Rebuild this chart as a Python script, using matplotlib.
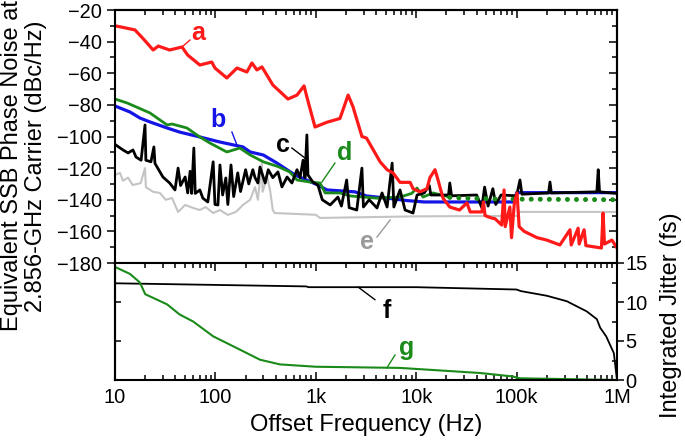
import numpy as np
import matplotlib.pyplot as plt
from matplotlib.ticker import FixedLocator, NullFormatter, MultipleLocator, LogLocator

plt.rcParams['font.family'] = ['Liberation Sans', 'DejaVu Sans']

# --- phase noise curves (offset frequency in Hz, dBc/Hz) ---
a_x = [10, 12, 15.8, 19, 24, 27, 35, 46.5, 53, 70, 92, 99, 130, 164, 206, 231, 259, 291, 373,
       528, 650, 764, 815, 982, 1290, 1740, 2100, 2350, 2880, 3200, 4370, 5130, 5870, 6900,
       8700, 9300, 10900, 12800, 13700, 15400, 16500, 18500, 21600, 27000, 32000, 34500,
       45000, 46800, 48500, 56000, 61000, 71000, 75000, 77000, 85700, 89000, 95000, 101000,
       106000, 119000, 160000, 200000, 270000, 340000, 350000, 410000, 420000, 470000,
       490000, 700000, 727000, 750000, 890000, 1000000]
a_y = [-30, -31, -32.6, -38, -45.3, -42.8, -45.3, -43.4, -48.5, -54.8, -52.9, -56.7, -63,
       -56.7, -59.2, -53.5, -57.9, -56, -67.4, -76.3, -73.8, -68, -75, -94, -91, -88.6,
       -73.8, -81.3, -100, -101, -116, -121, -123, -129, -129, -133, -135, -133, -126, -121,
       -127.5, -139, -144.6, -146.5, -142, -147.7, -147.7, -141.4, -150, -151.5, -152, -156,
       -133.8, -157, -144.6, -164, -142, -135.7, -157, -160, -164, -165.5, -168.6, -159,
       -168.6, -158, -168, -159, -169, -170.5, -148.4, -168, -165.5, -170.5]

b_x = [10, 14.1, 17.7, 22.3, 33, 44, 70, 111, 188, 222, 300, 410, 620, 1050, 1290, 2450, 3200,
       5130, 8000, 12000, 95000, 100000, 1000000]
b_y = [-80.7, -84.5, -88.3, -90.8, -94.6, -97.2, -100.3, -103.5, -106.6, -109.8, -111.7,
       -116.8, -124.3, -130.7, -133.8, -135, -137.6, -139, -140.5, -141.4, -141.4, -135.5,
       -135.5]

c_x = [10, 12, 13.5, 15.1, 16.2, 18.2, 19.9, 20.3, 22.8, 24.4, 25, 30, 35, 39.6, 42.5, 45,
       50, 53, 56, 58, 61, 63, 70, 75, 84, 95, 99, 106, 111, 118, 127, 133, 143, 152, 167,
       178, 200, 215, 236, 248, 265, 278, 313, 336, 373, 420, 460, 518, 578, 650, 697, 747,
       780, 815, 835, 935, 1050, 1160, 1390, 1660, 1800, 2030, 2150, 2560, 2880, 2980, 3400,
       4070, 4570, 5130, 5760, 5990, 6900, 7750, 9300, 10200, 12000, 13500, 14000, 21000,
       21600, 22500, 40000, 45000, 48000, 52000, 58000, 62000, 70000, 100000, 108000,
       113000, 208000, 215000, 222000, 630000, 650000, 670000, 1000000]
c_y = [-105, -108.5, -110.4, -108.5, -113, -115, -92.7, -115, -116, -106.6, -117, -125.6,
       -129.4, -133.8, -120, -131, -125.6, -135.7, -122, -136, -107.3, -136, -133.8, -139,
       -141.4, -116, -143, -143.3, -118, -137, -126.2, -143, -118, -138, -123, -134.8, -121,
       -130, -121, -126, -129.4, -119.3, -129.4, -121, -126, -122.4, -131.9, -125.6, -129.4,
       -121, -126, -115, -126, -99, -124.3, -128.8, -130.7, -140, -143.3, -138.3, -144,
       -127.5, -145, -146.5, -120, -144.6, -140, -145.2, -135.7, -144.6, -116.8, -144.6,
       -133.8, -146.5, -148.4, -137, -135.7, -131, -137, -137, -129.4, -137.5, -137, -145,
       -132, -144, -133, -143, -137, -137.5, -127.5, -136.5, -135.7, -128.8, -135.7, -135,
       -121, -135, -136]

d_x = [10, 13.2, 22.3, 33, 37, 52, 70, 88, 130, 175, 222, 300, 420, 550, 650, 875, 1100,
       1240, 1740, 2200, 4070, 6900, 9000, 10200, 11700, 14700, 21600]
d_y = [-76.3, -78.8, -85.1, -92.7, -92.1, -94.6, -100.3, -104.1, -109.8, -107.3, -111.7, -116,
       -119, -122.4, -127.5, -128.8, -129.4, -135.7, -135.7, -137.6, -139, -138.3, -136,
       -132.6, -138.3, -135.7, -138.3]
d_dot_x = [21600, 30000, 60000, 1000000]
d_dot_y = [-138.5, -139, -139.5, -140]

e_x = [10, 11.2, 12, 13.5, 15, 18, 19.9, 20.3, 24, 28, 32, 37, 42.5, 50, 60, 70, 80, 95, 111,
       133, 160, 188, 222, 248, 265, 290, 295, 328, 350, 373, 390, 1000, 1100, 10000, 105000,
       106000, 1000000]
e_y = [-124.3, -123, -128, -126, -130.7, -129.5, -120, -132, -135, -135.7, -140, -138.9,
       -147.7, -143.3, -145.2, -146.5, -144.6, -148.4, -146.5, -149.6, -147.7, -143.3, -140,
       -132, -140, -116.8, -135, -125.6, -133.8, -146.5, -148.4, -149.5, -151.5, -150.5,
       -150.2, -147.7, -147.7]

# --- integrated jitter (fs) ---
f_x = [10, 800, 850, 10000, 100000, 110000, 200000, 316000, 499000, 630000, 680000, 780000,
       930000, 1000000]
f_y = [12.4, 12.0, 11.9, 11.9, 11.6, 11.4, 10.8, 10.1, 8.8, 7.8, 6.7, 5.6, 3.45, 0]

g_x = [10, 14.1, 17.7, 20, 33, 44, 60, 95, 175, 278, 440, 1000, 6900, 43000, 92000, 101000,
       108000, 1000000]
g_y = [14.5, 13.6, 12.5, 11.0, 9.7, 8.4, 7.5, 5.6, 3.9, 2.6, 2.0, 1.7, 1.55, 0.9, 0.45, 0.3,
       0.22, 0.0]

xticks = [10, 100, 1e3, 1e4, 1e5, 1e6]
xticklabels = ['10', '100', '1k', '10k', '100k', '1M']

for xs, ys in [(a_x, a_y), (b_x, b_y), (c_x, c_y), (d_x, d_y), (e_x, e_y), (f_x, f_y), (g_x, g_y)]:
    assert len(xs) == len(ys), (len(xs), len(ys))

red, blue, green, gray = '#ff1a1a', '#1414e6', '#1a8a1a', '#c4c4c4'

fig = plt.figure(figsize=(6.85, 4.46), dpi=100)
ax = fig.add_axes([115 / 685, 1 - 263 / 446, 502 / 685, 253 / 446])
ax2 = fig.add_axes([115 / 685, 1 - 380 / 446, 502 / 685, 117 / 446])

ax.plot(e_x, e_y, color=gray, lw=1.5)
ax.plot(b_x, b_y, color=blue, lw=2.3)
ax.plot(d_x, d_y, color=green, lw=2.0)
ax.plot(c_x, c_y, color='black', lw=2.0)
ax.plot(d_dot_x, d_dot_y, color=green, lw=3.6, linestyle=(0, (0.01, 1.8)),
        dash_capstyle='round')
ax.plot(a_x, a_y, color=red, lw=2.3)

ax2.plot(f_x, f_y, color='black', lw=1.3)
ax2.plot(g_x, g_y, color=green, lw=1.5)

for a in (ax, ax2):
    a.set_xscale('log')
    a.set_xlim(10, 1e6)
    for s in a.spines.values():
        s.set_linewidth(1.5)

ax.set_ylim(-180, -20)
ax.yaxis.set_major_locator(MultipleLocator(20))
ax.yaxis.set_minor_locator(MultipleLocator(10))
ax.tick_params(axis='y', which='major', direction='out', length=6, width=1.1, labelsize=14.4)
ax.tick_params(axis='y', which='minor', direction='out', length=3.5, width=1.1)
ax.tick_params(axis='x', which='both', bottom=False, labelbottom=False)
ax.xaxis.set_major_locator(FixedLocator(xticks))
axr = ax.secondary_yaxis('right')
axr.yaxis.set_major_locator(MultipleLocator(20))
axr.yaxis.set_minor_locator(MultipleLocator(10))
axr.tick_params(which='major', direction='in', length=6, width=1.1, labelright=False)
axr.tick_params(which='minor', direction='in', length=3.5, width=1.1)
axr.spines['right'].set_linewidth(1.5)
axt = ax.secondary_xaxis('top')
axt.xaxis.set_major_locator(FixedLocator(xticks))
axt.xaxis.set_minor_locator(LogLocator(base=10, subs=np.arange(2, 10)))
axt.xaxis.set_minor_formatter(NullFormatter())
axt.tick_params(which='major', direction='in', length=6, width=1.1, labeltop=False)
axt.tick_params(which='minor', direction='in', length=3.5, width=1.1)
axt.spines['top'].set_linewidth(1.5)

ax2.set_ylim(0, 15)
ax2.yaxis.tick_right()
ax2.yaxis.set_major_locator(MultipleLocator(5))
ax2.yaxis.set_minor_locator(MultipleLocator(2.5))
ax2.tick_params(axis='y', which='major', direction='out', length=5, width=1.1, labelsize=14.4, pad=1)
ax2.tick_params(axis='y', which='minor', direction='in', length=3.5, width=1.1)
ax2.xaxis.set_major_locator(FixedLocator(xticks))
ax2.set_xticklabels(xticklabels)
ax2.xaxis.set_minor_locator(LogLocator(base=10, subs=np.arange(2, 10)))
ax2.xaxis.set_minor_formatter(NullFormatter())
ax2.tick_params(axis='x', which='major', direction='in', length=6, width=1.1, labelsize=14.4,
                top=True, pad=6)
ax2.tick_params(axis='x', which='minor', direction='in', length=3.5, width=1.1, top=True)
axl = ax2.secondary_yaxis('left')
axl.yaxis.set_major_locator(MultipleLocator(5))
axl.tick_params(which='major', direction='in', length=4, width=1.1, labelleft=False)
axl.spines['left'].set_linewidth(1.5)

ax2.set_xlabel('Offset Frequency (Hz)', fontsize=17, labelpad=5)
fig.text(0.035, 0.628, 'Equivalent SSB Phase Noise at\n2.856-GHz Carrier (dBc/Hz)',
         rotation=90, ha='center', va='center', fontsize=17, linespacing=1.15,
         multialignment='center')
fig.text(0.98, 0.294, 'Integrated Jitter (fs)', rotation=90, ha='center', va='center',
         fontsize=17)

# curve labels with leader lines
lab = dict(fontsize=18, fontweight='bold', ha='center', va='center')
ax.text(67, -34.5, 'a', color=red, **lab)
ax.plot([55.8, 46.5], [-39, -43.4], color=red, lw=1)
ax.text(106, -89.6, 'b', color=blue, **lab)
ax.plot([146, 164], [-97.2, -105.4], color=blue, lw=1)
ax.text(470, -105.4, 'c', color='black', **lab)
ax.plot([578, 780], [-107.3, -113.6], color='black', lw=1)
ax.text(1950, -110.4, 'd', color=green, **lab)
ax.plot([1550, 1150], [-116.8, -128.8], color=green, lw=1)
ax.text(3200, -166.7, 'e', color='#9a9a9a', **lab)
ax.plot([4070, 5500], [-163.6, -152.8], color='#9a9a9a', lw=1)
ax2.text(5100, 8.8, 'f', color='black', **lab)
ax2.plot([3880, 2650], [10.3, 11.9], color='black', lw=1)
ax2.text(8100, 4.1, 'g', color=green, **lab)
ax2.plot([6150, 5100], [3.2, 1.55], color=green, lw=1)

fig.savefig('out.png', dpi=100)
